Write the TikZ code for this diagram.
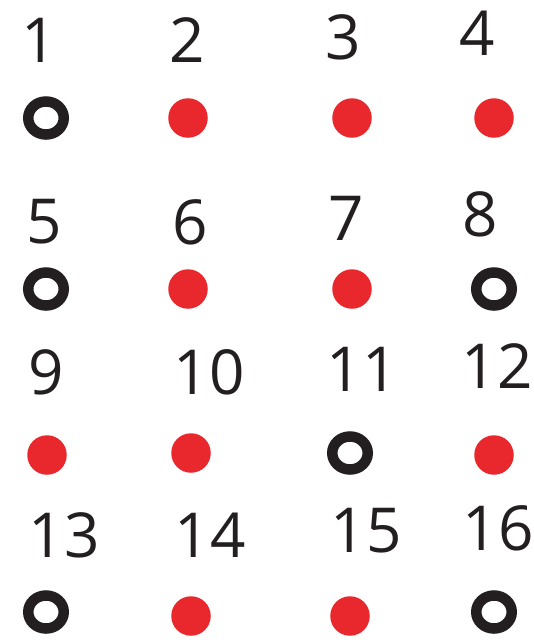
\documentclass[tikz,border=0pt]{standalone}
\usepackage{fontspec}
\setmainfont{Open Sans}
\usetikzlibrary{shapes.geometric}
\definecolor{inkblack}{HTML}{231F20}
\definecolor{dotred}{HTML}{E9282D}

\begin{document}
\begin{tikzpicture}[
    x=1pt, y=-1pt,
    every node/.style={inner sep=0pt},
    num/.style={
        font=\fontsize{62}{62}\selectfont,
        text=inkblack
    },
    hole/.style={
        ellipse,
        draw=inkblack,
        line width=10.5pt,
        minimum width=35.5pt,
        minimum height=33pt
    },
    dot/.style={
        circle,
        fill=dotred,
        minimum size=39.5pt
    }
]
\useasboundingbox (0,0) rectangle (534,643);

% row 1
\node[num] (n1) at (39,40) {1};
\node[num] (n2) at (187,40) {2};
\node[num] (n3) at (343,37) {3};
\node[num] (n4) at (477,33) {4};
\node[hole] (c1) at (46,118) {};
\node[dot] (c2) at (188,118) {};
\node[dot] (c3) at (352,118) {};
\node[dot] (c4) at (494,118) {};

% row 2
\node[num] (n5) at (44,222) {5};
\node[num] (n6) at (190,222) {6};
\node[num] (n7) at (346,218) {7};
\node[num] (n8) at (480,214) {8};
\node[hole] (c5) at (46,289) {};
\node[dot] (c6) at (188,289) {};
\node[dot] (c7) at (352,289) {};
\node[hole] (c8) at (494,289) {};

% row 3
\node[num] (n9) at (46,372) {9};
\node[num] (n10) at (209,372) {10};
\node[num] (n11) at (362,369) {11};
\node[num] (n12) at (497,366) {12};
\node[dot] (c9) at (47,455) {};
\node[dot] (c10) at (191,453) {};
\node[hole] (c11) at (350,453) {};
\node[dot] (c12) at (494,455) {};

% row 4
\node[num] (n13) at (64,535) {13};
\node[num] (n14) at (210,535) {14};
\node[num] (n15) at (366,531) {15};
\node[num] (n16) at (498,528) {16};
\node[hole] (c13) at (46,612) {};
\node[dot] (c14) at (191,616) {};
\node[dot] (c15) at (350,616) {};
\node[hole] (c16) at (494,612) {};

\end{tikzpicture}
\end{document}
